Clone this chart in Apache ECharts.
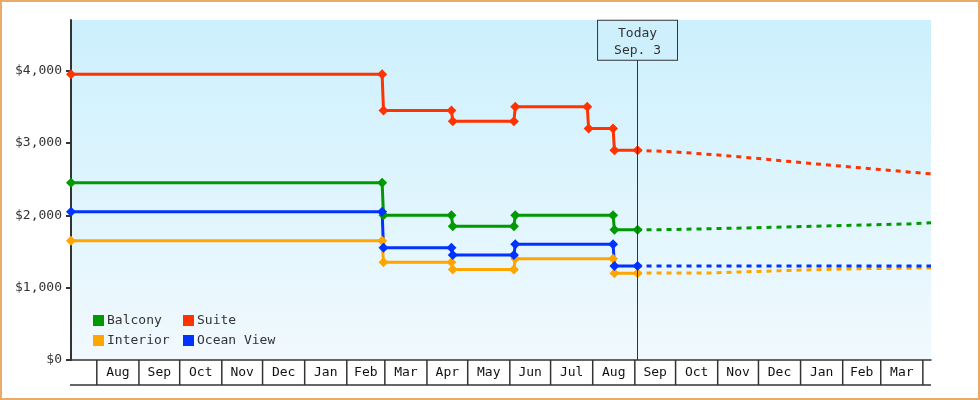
<!DOCTYPE html>
<html>
<head>
<meta charset="utf-8">
<script src="https://cdn.jsdelivr.net/npm/echarts@6/dist/echarts.min.js"></script>
<style>
  html, body { margin: 0; padding: 0; background: #fff; }
  #chart { width: 976px; height: 396px; border: 2px solid #eaab6a; }
</style>
</head>
<body>
<div id="chart"></div>
<script type="text/javascript">
// price history (solid, with markers)
var balconyHistory = [['2013-07-13', 2450], ['2014-02-27', 2450], ['2014-02-28', 2000], ['2014-04-19', 2000], ['2014-04-20', 1850],
  ['2014-06-04', 1850], ['2014-06-05', 2000], ['2014-08-16', 2000], ['2014-08-17', 1800], ['2014-09-03', 1800]];
var interiorHistory = [['2013-07-13', 1650], ['2014-02-27', 1650], ['2014-02-28', 1350], ['2014-04-19', 1350], ['2014-04-20', 1250],
  ['2014-06-04', 1250], ['2014-06-05', 1400], ['2014-08-16', 1400], ['2014-08-17', 1200], ['2014-09-03', 1200]];
var oceanHistory = [['2013-07-13', 2050], ['2014-02-27', 2050], ['2014-02-28', 1550], ['2014-04-19', 1550], ['2014-04-20', 1450],
  ['2014-06-04', 1450], ['2014-06-05', 1600], ['2014-08-16', 1600], ['2014-08-17', 1300], ['2014-09-03', 1300]];
var suiteHistory = [['2013-07-13', 3950], ['2014-02-27', 3950], ['2014-02-28', 3450], ['2014-04-19', 3450], ['2014-04-20', 3300],
  ['2014-06-04', 3300], ['2014-06-05', 3500], ['2014-07-28', 3500], ['2014-07-29', 3200], ['2014-08-16', 3200],
  ['2014-08-17', 2900], ['2014-09-03', 2900]];

// forecast (dashed)
var balconyForecast = [['2014-09-03', 1800], ['2014-09-18', 1812], ['2014-10-20', 1826], ['2014-11-23', 1840], ['2014-12-22', 1853],
  ['2015-01-20', 1867], ['2015-02-20', 1881], ['2015-03-22', 1898], ['2015-04-07', 1898]];
var interiorForecast = [['2014-09-03', 1203], ['2014-10-27', 1225], ['2014-12-01', 1245], ['2015-01-06', 1263], ['2015-02-15', 1272],
  ['2015-04-07', 1272]];
var oceanForecast = [['2014-09-03', 1300], ['2015-04-07', 1300]];
var suiteForecast = [['2014-09-03', 2900], ['2014-10-01', 2875], ['2014-11-01', 2835], ['2014-12-01', 2785], ['2015-01-01', 2730],
  ['2015-02-01', 2678], ['2015-03-01', 2632], ['2015-04-07', 2573]];

var today = '2014-09-03';
var todayLabel = 'Today\nSep. 3';

var monthStarts = ['2013-08-01', '2013-09-01', '2013-10-01', '2013-11-01', '2013-12-01', '2014-01-01', '2014-02-01',
  '2014-03-01', '2014-04-01', '2014-05-01', '2014-06-01', '2014-07-01', '2014-08-01', '2014-09-01', '2014-10-01',
  '2014-11-01', '2014-12-01', '2015-01-01', '2015-02-01', '2015-03-01', '2015-04-01'];
var monthLabels = ['Aug', 'Sep', 'Oct', 'Nov', 'Dec', 'Jan', 'Feb', 'Mar', 'Apr', 'May', 'Jun', 'Jul', 'Aug',
  'Sep', 'Oct', 'Nov', 'Dec', 'Jan', 'Feb', 'Mar'];
var yTicks = [0, 1000, 2000, 3000, 4000];

var colors = { Balcony: '#009900', Interior: '#ffa500', 'Ocean View': '#0033ff', Suite: '#ff3300' };
var FONT = '"DejaVu Sans Mono", monospace';

var monthTimes = monthStarts.map(function (d) { return +echarts.time.parse(d); });

function historySeries(name, data) {
  return {
    name: name, type: 'line', data: data, clip: false,
    symbol: 'diamond', symbolSize: 10, showSymbol: true,
    itemStyle: { color: colors[name] },
    lineStyle: { color: colors[name], width: 3 }
  };
}
function forecastSeries(name, data, step) {
  return {
    name: name, type: 'line', data: data, clip: false, showSymbol: false, symbol: 'none',
    step: step ? 'end' : false,
    itemStyle: { color: colors[name] },
    lineStyle: { color: colors[name], width: 3, type: [5, 5], dashOffset: 1 }
  };
}

var chart = echarts.init(document.getElementById('chart'));
var suite = historySeries('Suite', suiteHistory);
suite.markLine = {
  silent: true, symbol: ['none', 'none'], animation: false,
  lineStyle: { color: '#333', width: 1, type: 'solid' },
  label: {
    show: true, position: 'end', distance: 0, formatter: todayLabel,
    fontFamily: FONT, fontSize: 13, lineHeight: 17, color: '#333',
    backgroundColor: '#cdf0fc', borderColor: '#333', borderWidth: 1, padding: [4, 16, 1, 16]
  },
  data: [[{ coord: [today, 0] }, { coord: [today, 4150] }]]
};

var legendText = { fontFamily: FONT, fontSize: 13, lineHeight: 13, color: '#333', padding: [0, 0, 0, -2] };

var option = {
  animation: false,
  textStyle: { fontFamily: FONT },
  grid: {
    left: 69, right: 47, top: 18, bottom: 38, show: true, borderWidth: 0,
    backgroundColor: new echarts.graphic.LinearGradient(0, 0, 0, 1, [
      { offset: 0, color: '#ccf0fd' }, { offset: 1, color: '#f1f9fe' }
    ])
  },
  legend: [
    {
      left: 91, top: 312, orient: 'vertical', itemGap: 7, itemWidth: 11, itemHeight: 11, icon: 'rect',
      padding: 0, selectedMode: false, textStyle: legendText,
      data: ['Balcony', 'Interior']
    },
    {
      left: 181, top: 312, orient: 'vertical', itemGap: 7, itemWidth: 11, itemHeight: 11, icon: 'rect',
      padding: 0, selectedMode: false, textStyle: legendText,
      data: ['Suite', 'Ocean View']
    }
  ],
  xAxis: {
    type: 'time', min: '2013-07-13', max: '2015-04-07',
    axisLine: { lineStyle: { color: '#333', width: 1.5 } },
    axisTick: { show: false }, axisLabel: { show: false }, splitLine: { show: false }
  },
  yAxis: {
    type: 'value', min: 0, max: 4700,
    axisLine: { show: true, lineStyle: { color: '#333', width: 2 } },
    axisTick: { show: true, length: 5, customValues: yTicks, lineStyle: { color: '#333', width: 2 } },
    axisLabel: {
      customValues: yTicks, margin: 9, fontFamily: FONT, fontSize: 13, color: '#333',
      formatter: function (v) { return '$' + v.toLocaleString('en-US'); }
    },
    splitLine: { show: false }
  },
  series: [
    historySeries('Balcony', balconyHistory),
    forecastSeries('Balcony', balconyForecast, true),
    historySeries('Interior', interiorHistory),
    forecastSeries('Interior', interiorForecast, true),
    historySeries('Ocean View', oceanHistory),
    forecastSeries('Ocean View', oceanForecast, false),
    suite,
    forecastSeries('Suite', suiteForecast, false),
    {
      // month table below the axis
      type: 'custom', silent: true, clip: false,
      dimensions: [{ name: 'date', type: 'time' }],
      encode: { x: 0 },
      data: monthStarts.map(function (d) { return [d]; }),
      renderItem: function (params, api) {
        var cs = params.coordSys;
        var i = params.dataIndex;
        var x0 = api.coord([monthTimes[i], 0])[0];
        var yb = cs.y + cs.height;
        var lineStyle = { stroke: '#333', lineWidth: 1.5 };
        var children = [{ type: 'line', shape: { x1: x0, y1: yb, x2: x0, y2: yb + 25 }, style: lineStyle }];
        if (i < monthLabels.length) {
          var x1 = api.coord([monthTimes[i + 1], 0])[0];
          children.push({
            type: 'text', x: (x0 + x1) / 2, y: yb + 13,
            style: { text: monthLabels[i], align: 'center', verticalAlign: 'middle', font: '13px ' + FONT, fill: '#111' }
          });
        }
        if (i === 0) {
          children.push({ type: 'line', shape: { x1: cs.x - 1, y1: yb + 25, x2: cs.x + cs.width, y2: yb + 25 }, style: lineStyle });
        }
        return { type: 'group', children: children };
      }
    }
  ]
};
chart.setOption(option);
</script>
</body>
</html>
